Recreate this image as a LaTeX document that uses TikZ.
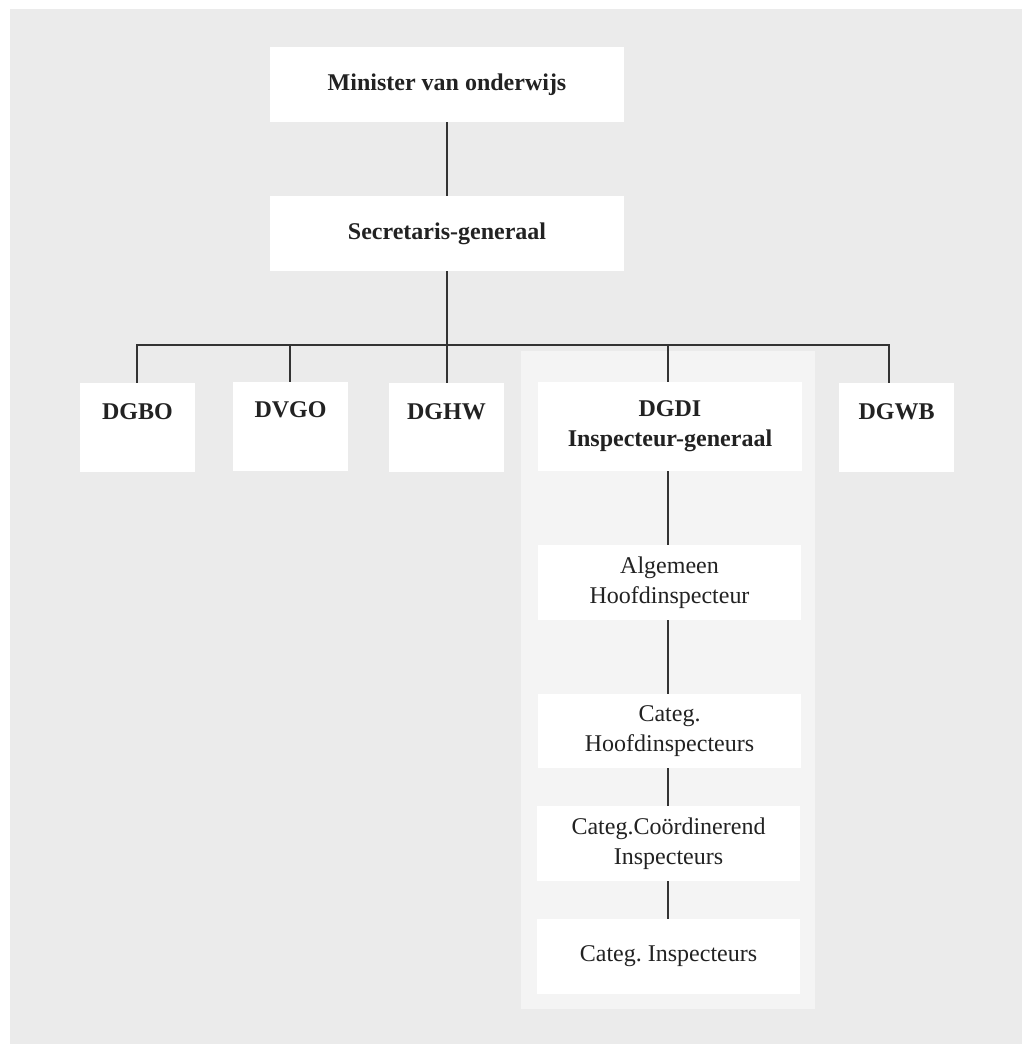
\documentclass[tikz,border=0pt]{standalone}
\usepackage{fontspec}
\setmainfont{Liberation Serif}
\frenchspacing
\definecolor{bgc}{HTML}{EBEBEB}
\definecolor{panelc}{HTML}{F4F4F4}
\definecolor{linec}{HTML}{333333}
\definecolor{textc}{HTML}{222222}
\tikzset{
  box/.style={fill=white, draw=none, inner sep=0pt, text=textc, align=center,
    font=\fontsize{24}{30}\selectfont},
  bbox/.style={box, font=\fontsize{24}{30}\selectfont\bfseries},
  lbl/.style={inner sep=0pt, text=textc, font=\fontsize{24}{30}\selectfont\bfseries},
  conn/.style={draw=linec, line width=1.4pt},
}
\begin{document}
\begin{tikzpicture}[x=1pt,y=-1pt]
\useasboundingbox (0,0) rectangle (1022,1044);
\fill[bgc] (10,9) rectangle (1022,1044);
\fill[panelc] (521,351) rectangle (815,1009);

\node[bbox, minimum width=354pt, minimum height=75pt] (min) at (447,84.5) {Minister van onderwijs};
\node[bbox, minimum width=354pt, minimum height=75pt] (sec) at (447,233.5) {Secretaris-generaal};

\node[box, minimum width=115pt, minimum height=89pt] (dgbo) at (137.5,427.5) {};
\node[box, minimum width=115pt, minimum height=89pt] (dvgo) at (290.5,426.5) {};
\node[box, minimum width=115pt, minimum height=89pt] (dghw) at (446.5,427.5) {};
\node[box, minimum width=115pt, minimum height=89pt] (dgwb) at (896.5,427.5) {};
\node[lbl] (tdgbo) at (137.5,412) {DGBO};
\node[lbl] (tdvgo) at (290.5,410) {DVGO};
\node[lbl] (tdghw) at (446.5,412) {DGHW};
\node[lbl] (tdgwb) at (896.5,412) {DGWB};

\node[bbox, minimum width=264pt, minimum height=89pt] (dgdi) at (670,426.5) {DGDI\\Inspecteur-generaal};
\node[box, minimum width=263pt, minimum height=75pt] (alg) at (669.5,582.5) {Algemeen\\Hoofdinspecteur};
\node[box, minimum width=263pt, minimum height=74pt] (chi) at (669.5,731) {Categ.\\Hoofdinspecteurs};
\node[box, minimum width=263pt, minimum height=75pt] (cci) at (668.5,843.5) {Categ.Coördinerend\\Inspecteurs};
\node[box, minimum width=263pt, minimum height=75pt] (cin) at (668.5,956.5) {Categ. Inspecteurs};

\coordinate (bus) at (447,345);
\coordinate (b1) at (137,345);
\coordinate (b2) at (290,345);
\coordinate (b3) at (447,345);
\coordinate (b4) at (668,345);
\coordinate (b5) at (889,345);

\draw[conn] (min.south) -- (sec.north);
\draw[conn] (sec.south) -- (bus);
\draw[conn] (b1 |- dgbo.north) -- (b1) -- (b5) -- (b5 |- dgwb.north);
\draw[conn] (b2) -- (b2 |- dvgo.north);
\draw[conn] (b3) -- (b3 |- dghw.north);
\draw[conn] (b4) -- (b4 |- dgdi.north);
\draw[conn] (b4 |- dgdi.south) -- (b4 |- alg.north);
\draw[conn] (b4 |- alg.south) -- (b4 |- chi.north);
\draw[conn] (b4 |- chi.south) -- (b4 |- cci.north);
\draw[conn] (b4 |- cci.south) -- (b4 |- cin.north);
\end{tikzpicture}
\end{document}
